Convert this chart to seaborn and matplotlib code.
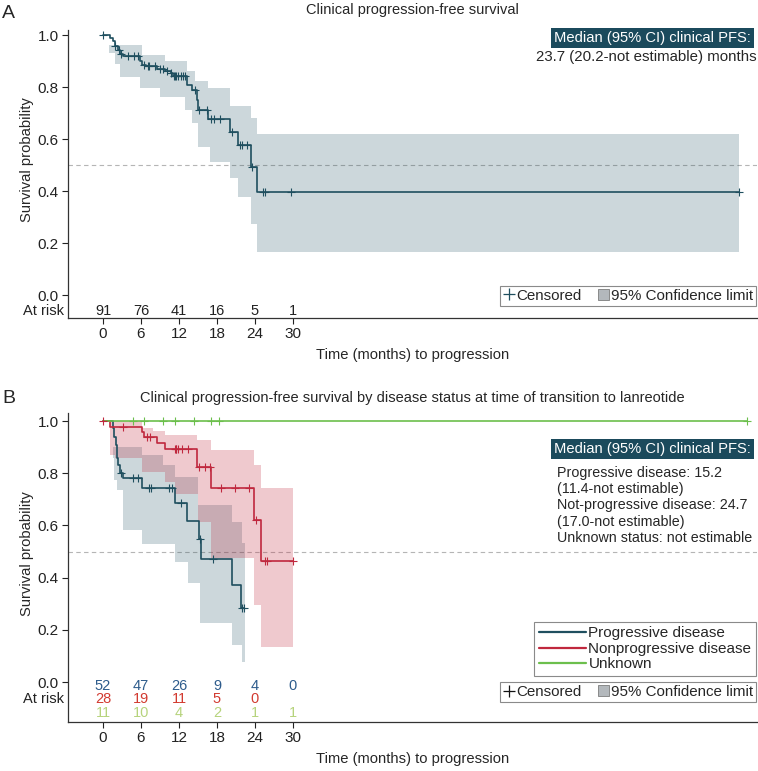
import numpy as np
import pandas as pd
import matplotlib
matplotlib.use("Agg")
import matplotlib.pyplot as plt
from matplotlib.lines import Line2D
from matplotlib.patches import Patch
import seaborn as sns

sns.set_style("ticks")
plt.rcParams['font.family'] = ['Liberation Sans', 'DejaVu Sans']

# ---------------- data ----------------
# panel A: clinical PFS, all patients
a_time = [0, 1.1, 1.5, 1.9, 2.3, 2.7, 3.2, 5.8, 6.1, 6.8, 8.5, 9.8, 10.7, 11.1,
          13.2, 14.1, 14.8, 15.0, 16.6, 20.0, 21.4, 23.4, 24.4, 100.4]
a_surv = [1.0, 0.988, 0.976, 0.957, 0.944, 0.927, 0.918, 0.899, 0.886, 0.88, 0.87,
          0.86, 0.854, 0.841, 0.809, 0.79, 0.751, 0.713, 0.678, 0.628, 0.577,
          0.494, 0.397, 0.397]
a_ci_time = [0.9, 1.9, 2.7, 5.9, 6.1, 9.0, 9.8, 13.0, 13.2, 14.1, 14.5, 15.0,
             16.6, 16.9, 20.0, 21.4, 23.4, 24.4, 100.4]
a_ci_upper = [0.963, 0.963, 0.963, 0.963, 0.924, 0.924, 0.901, 0.901, 0.86, 0.86,
              0.822, 0.822, 0.796, 0.796, 0.726, 0.726, 0.68, 0.62, 0.62]
a_ci_lower = [0.93, 0.89, 0.84, 0.795, 0.795, 0.763, 0.763, 0.71, 0.71, 0.66,
              0.66, 0.57, 0.57, 0.513, 0.449, 0.378, 0.273, 0.167, 0.167]
a_censor = [0, 1.9, 2.5, 2.9, 4.0, 4.9, 5.6, 6.5, 7.1, 7.3, 8.2, 9.0, 9.4, 10.1,
            10.8, 11.2, 11.4, 11.6, 11.9, 12.3, 12.7, 13.0, 14.6, 15.1, 16.5,
            17.0, 17.6, 18.4, 20.3, 21.6, 21.9, 22.7, 23.6, 25.2, 25.6, 29.7, 100.4]
a_risk = [91, 76, 41, 16, 5, 1]

# panel B: by disease status
groups = ['Progressive disease', 'Nonprogressive disease', 'Unknown']
pd_time = [0, 1.6, 1.8, 2.0, 2.2, 2.4, 2.7, 3.2, 6.1, 11.4, 13.2, 15.2, 15.5,
           20.4, 21.8, 22.2]
pd_surv = [1.0, 0.972, 0.94, 0.908, 0.86, 0.831, 0.80, 0.78, 0.745, 0.685,
           0.617, 0.547, 0.47, 0.372, 0.282, 0.282]
pd_ci_time = [1.6, 1.8, 2.2, 3.2, 6.1, 9.5, 11.4, 13.5, 15.0, 15.3, 20.3, 21.9, 22.4]
pd_ci_upper = [0.902, 0.902, 0.902, 0.902, 0.87, 0.831, 0.787, 0.787, 0.678,
               0.678, 0.614, 0.531, 0.531]
pd_ci_lower = [0.86, 0.774, 0.736, 0.582, 0.529, 0.529, 0.461, 0.378, 0.378,
               0.225, 0.142, 0.078, 0.078]
pd_censor = [2.9, 4.8, 5.6, 7.2, 7.6, 10.4, 10.9, 12.3, 15.3, 17.4, 21.9, 22.2]

np_time = [0, 1.1, 6.1, 6.5, 8.5, 9.8, 14.8, 17.1, 23.8, 24.9, 30.05]
np_surv = [1.0, 0.978, 0.957, 0.94, 0.914, 0.893, 0.825, 0.745, 0.62, 0.465, 0.465]
np_ci_time = [1.1, 1.9, 6.1, 7.9, 9.8, 11.4, 14.8, 15.0, 17.1, 23.8, 24.9, 30.05]
np_ci_upper = [1.0, 1.0, 0.975, 0.96, 0.945, 0.945, 0.927, 0.927, 0.889, 0.83,
               0.742, 0.742]
np_ci_lower = [0.87, 0.86, 0.806, 0.806, 0.768, 0.72, 0.72, 0.614, 0.474, 0.295,
               0.135, 0.135]
np_censor = [0, 3.2, 6.9, 7.4, 11.3, 11.5, 11.6, 11.8, 12.5, 13.4, 15.1, 16.1,
             16.9, 18.7, 20.8, 23.0, 24.2, 25.6, 25.9, 30.05]

unk_time = [0, 101.7]
unk_surv = [1.0, 1.0]
unk_censor = [4.8, 6.4, 9.5, 11.3, 14.4, 17.1, 18.3, 101.7]

risk_times = [0, 6, 12, 18, 24, 30]
pd_risk = [52, 47, 26, 9, 4, 0]
np_risk = [28, 19, 11, 5, 0]
unk_risk = [11, 10, 4, 2, 1, 1]

# ---------------- style ----------------
c_blue = '#1f4f5f'
c_red = '#c0283e'
c_green = '#6cbf4c'
risk_cols = ['#2e5c8c', '#d23a30', '#b6d37c']
header_col = '#1b4a5c'
W, H = 758, 771
FS = 10.6


def px(x, y):
    return x / W, 1 - y / H


def step_val(times, surv, t):
    i = np.searchsorted(times, t, side='right') - 1
    return np.asarray(surv)[np.clip(i, 0, len(surv) - 1)]


def style_axes(ax, ybot, ytop):
    ax.set_xlim(-5.53, 103.3)
    ax.set_ylim(ybot, ytop)
    ax.set_xticks([0, 6, 12, 18, 24, 30])
    ax.set_yticks([0, 0.2, 0.4, 0.6, 0.8, 1.0])
    ax.set_yticklabels(['0.0', '0.2', '0.4', '0.6', '0.8', '1.0'])
    ax.tick_params(labelsize=11, length=4, width=0.8, pad=2.5, colors='#222222')
    sns.despine(ax=ax)
    for s in ['left', 'bottom']:
        ax.spines[s].set_color('#333333')
        ax.spines[s].set_linewidth(0.9)
    ax.axhline(0.5, color='#b5b5b5', lw=0.8, ls=(0, (4, 3)), zorder=1)
    ax.set_xlabel('Time (months) to progression', fontsize=10.6, labelpad=5)
    ax.set_ylabel('Survival probability', fontsize=10.6)


def censor_legend(ax, plus_col, y_anchor):
    leg = ax.legend(handles=[Line2D([], [], marker='+', ls='none', color=plus_col,
                                    markersize=9, markeredgewidth=0.9),
                             Patch(facecolor='#b3b8bc', edgecolor='#7d7d7d', lw=0.6)],
                    labels=['Censored', '95% Confidence limit'], ncol=2,
                    loc='lower right', bbox_to_anchor=(0.9985, y_anchor), borderaxespad=0,
                    fontsize=10.9, handlelength=0.75, handleheight=0.75,
                    handletextpad=0.1, columnspacing=1.1, borderpad=0.2,
                    fancybox=False, edgecolor='#8a8a8a', framealpha=1)
    leg.get_frame().set_linewidth(0.8)
    return leg


fig = plt.figure(figsize=(W / 100, H / 100), dpi=100)
axA = fig.add_axes([68 / W, 1 - 318 / H, (757 - 68) / W, (318 - 29.8) / H])
axB = fig.add_axes([68 / W, 1 - 722 / H, (757 - 68) / W, (722 - 413) / H])

# ---------------- panel A ----------------
axA.fill_between(a_ci_time, a_ci_lower, a_ci_upper, step='post',
                 color=c_blue, alpha=0.223, lw=0, zorder=2)
dfA = pd.DataFrame({'month': a_time, 'surv': a_surv})
sns.lineplot(data=dfA, x='month', y='surv', ax=axA, color=c_blue, lw=1.2,
             drawstyle='steps-post', estimator=None, zorder=4)
sns.scatterplot(x=a_censor, y=step_val(a_time, a_surv, a_censor), ax=axA,
                marker='+', s=28, color=c_blue, linewidth=0.8, zorder=5)
style_axes(axA, -0.088, 1.02)
axA.yaxis.set_label_coords(-0.05, 0.55)
for t, n in zip(risk_times, a_risk):
    axA.text(t, -0.06, str(n), ha='center', va='center', fontsize=10.5, color='#222222')
axA.text(-0.006, -0.06, 'At risk', transform=axA.get_yaxis_transform(),
         ha='right', va='center', fontsize=10.5, color='#222222')
censor_legend(axA, c_blue, 0.042)

fig.text(*px(412, 10), 'Clinical progression-free survival', ha='center', va='center',
         fontsize=10.5)
fig.text(*px(2, 13), 'A', ha='left', va='center', fontsize=14)
fig.text(*px(751, 38), 'Median (95% CI) clinical PFS:', ha='right', va='center',
         fontsize=FS, color='white',
         bbox=dict(boxstyle='square,pad=0.2', facecolor=header_col, edgecolor='none'))
fig.text(*px(757, 57), '23.7 (20.2-not estimable) months', ha='right', va='center',
         fontsize=10.8)

# ---------------- panel B ----------------
axB.fill_between(pd_ci_time, pd_ci_lower, pd_ci_upper, step='post',
                 color=c_blue, alpha=0.223, lw=0, zorder=2)
axB.fill_between(np_ci_time, np_ci_lower, np_ci_upper, step='post',
                 color=c_red, alpha=0.25, lw=0, zorder=3)

dfB = pd.concat([
    pd.DataFrame({'month': pd_time, 'surv': pd_surv, 'group': groups[0]}),
    pd.DataFrame({'month': np_time, 'surv': np_surv, 'group': groups[1]}),
    pd.DataFrame({'month': unk_time, 'surv': unk_surv, 'group': groups[2]}),
])
palette = {groups[0]: c_blue, groups[1]: c_red, groups[2]: c_green}
sns.lineplot(data=dfB, x='month', y='surv', hue='group', palette=palette, ax=axB,
             lw=1.2, drawstyle='steps-post', estimator=None, legend=False, zorder=4)
for times, surv, cens, col in [(unk_time, unk_surv, unk_censor, c_green),
                               (pd_time, pd_surv, pd_censor, c_blue),
                               (np_time, np_surv, np_censor, c_red)]:
    sns.scatterplot(x=cens, y=step_val(times, surv, cens), ax=axB, marker='+',
                    s=28, color=col, linewidth=0.8, zorder=5)
style_axes(axB, -0.153, 1.0307)
axB.yaxis.set_label_coords(-0.05, 0.545)

for row, (vals, col) in enumerate(zip([pd_risk, np_risk, unk_risk], risk_cols)):
    yv = [-0.015, -0.066, -0.119][row]
    for t, n in zip(risk_times, vals):
        axB.text(t, yv, str(n), ha='center', va='center', fontsize=10.5, color=col)
axB.text(-0.006, -0.066, 'At risk', transform=axB.get_yaxis_transform(),
         ha='right', va='center', fontsize=10.5, color='#222222')

legB1 = axB.legend(handles=[Line2D([], [], color=c, lw=1.6) for c in palette.values()],
                   labels=groups, loc='lower right', bbox_to_anchor=(0.9985, 0.149),
                   borderaxespad=0, fontsize=11, handlelength=3.1,
                   handletextpad=0.15, labelspacing=0.1, borderpad=0.3, fancybox=False,
                   edgecolor='#8a8a8a', framealpha=1)
legB1.get_frame().set_linewidth(0.8)
axB.add_artist(legB1)
censor_legend(axB, '#111111', 0.0647)

fig.text(*px(412, 398), 'Clinical progression-free survival by disease status at time '
         'of transition to lanreotide', ha='center', va='center', fontsize=10.5)
fig.text(*px(2, 398), 'B', ha='left', va='center', fontsize=14)
fig.text(*px(751, 449), 'Median (95% CI) clinical PFS:', ha='right', va='center',
         fontsize=FS, color='white',
         bbox=dict(boxstyle='square,pad=0.2', facecolor=header_col, edgecolor='none'))
median_lines = ['Progressive disease: 15.2', '(11.4-not estimable)',
                'Not-progressive disease: 24.7', '(17.0-not estimable)',
                'Unknown status: not estimable']
for i, line in enumerate(median_lines):
    fig.text(*px(557, 473 + 16.2 * i), line, ha='left', va='center', fontsize=10.3)

fig.savefig('out.png', dpi=100)
